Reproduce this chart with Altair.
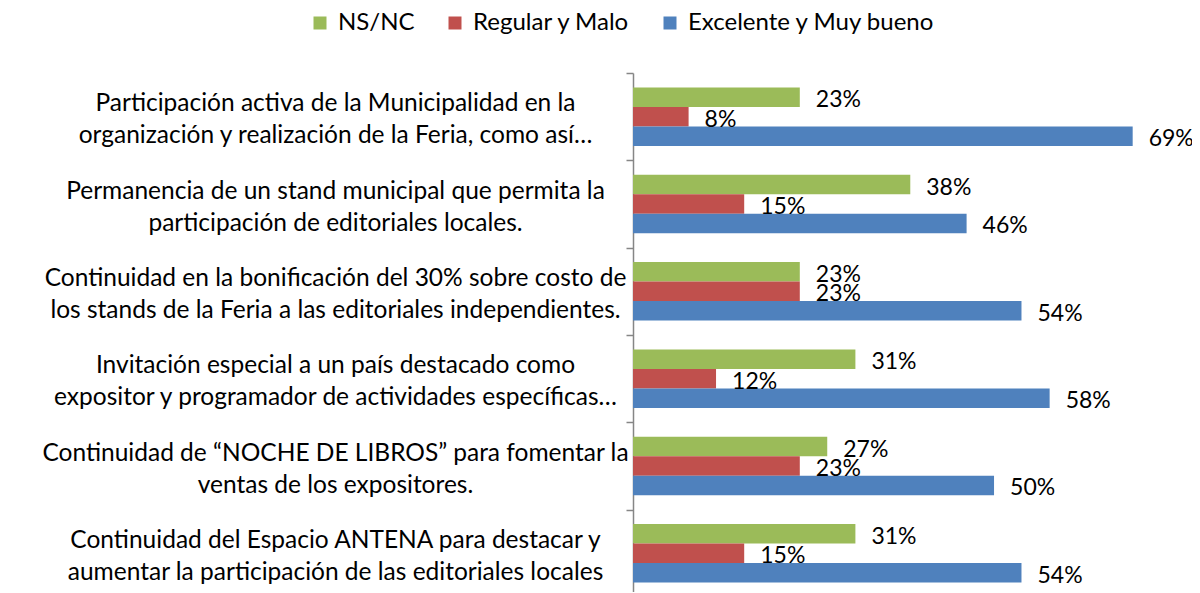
import altair as alt
import pandas as pd

categories = [
    "Participación activa de la Municipalidad en la\norganización y realización de la Feria, como así…",
    "Permanencia de un stand municipal que permita la\nparticipación de editoriales locales.",
    "Continuidad en la bonificación del 30% sobre costo de\nlos stands de la Feria a las editoriales independientes.",
    "Invitación especial a un país destacado como\nexpositor y programador de actividades específicas…",
    "Continuidad de “NOCHE DE LIBROS” para fomentar la\nventas de los expositores.",
    "Continuidad del Espacio ANTENA para destacar y\naumentar la participación de las editoriales locales",
]
series = ["NS/NC", "Regular y Malo", "Excelente y Muy bueno"]
colors = ["#9BBB59", "#C0504D", "#4F81BD"]

ns_nc = [23.1, 38.4, 23.1, 30.8, 26.9, 30.8]
regular_malo = [7.7, 15.4, 23.1, 11.5, 23.1, 15.4]
excelente = [69.2, 46.2, 53.8, 57.7, 50.0, 53.8]

rows = []
for i, c in enumerate(categories):
    for s, vals in zip(series, [ns_nc, regular_malo, excelente]):
        rows.append({"cat": c, "series": s, "value": vals[i]})
df = pd.DataFrame(rows)

FONT = "Lato"

y_enc = alt.Y(
    "cat:N",
    sort=categories,
    title=None,
    scale=alt.Scale(range=[0, 524], paddingInner=0, paddingOuter=0),
    axis=alt.Axis(
        labelExpr="split(datum.label, '\\n')",
        labelFont=FONT,
        labelFontSize=24.5,
        labelColor="#000000",
        labelAlign="center",
        labelBaseline="middle",
        labelPadding=291,
        labelLineHeight=32,
        labelOffset=-13,
        labelLimit=0,
        tickBand="extent",
        tickSize=7,
        tickColor="#868686",
        domainColor="#868686",
        tickWidth=1.5,
        domainWidth=1.5,
        grid=False,
    ),
)
yoff_enc = alt.YOffset(
    "series:N", sort=series, scale=alt.Scale(paddingInner=0, paddingOuter=0.74)
)
x_enc = alt.X(
    "value:Q",
    scale=alt.Scale(domain=[0, 77], nice=False, zero=True),
    axis=None,
)

base = alt.Chart(df)

bars = base.mark_bar().encode(
    x=x_enc,
    y=y_enc,
    yOffset=yoff_enc,
    color=alt.Color(
        "series:N",
        sort=series,
        scale=alt.Scale(domain=series, range=colors),
        legend=alt.Legend(
            title=None,
            orient="none",
            direction="horizontal",
            legendX=-325,
            legendY=-62,
            symbolType="square",
            symbolSize=169,
            symbolStrokeWidth=0,
            labelFont=FONT,
            labelFontSize=24,
            labelColor="#000000",
            labelOffset=6,
            labelLimit=0,
            columnPadding=28,
        ),
    ),
)

labels = base.transform_calculate(
    label="format(datum.value, '.0f') + '%'"
).mark_text(
    align="left", baseline="middle", dx=16, dy=3, font=FONT, fontSize=23, color="#000000"
).encode(
    x=x_enc,
    y=y_enc,
    yOffset=yoff_enc,
    text="label:N",
)

chart = (
    alt.layer(bars, labels)
    .properties(
        width=556,
        height=512,
        autosize=alt.AutoSizeParams(type="none"),
        padding={"left": 625, "top": 65, "right": 3, "bottom": 7},
        background="#ffffff",
    )
    .configure_view(stroke=None)
)

chart.save("out.html", embed_options={"renderer": "svg", "actions": False})
